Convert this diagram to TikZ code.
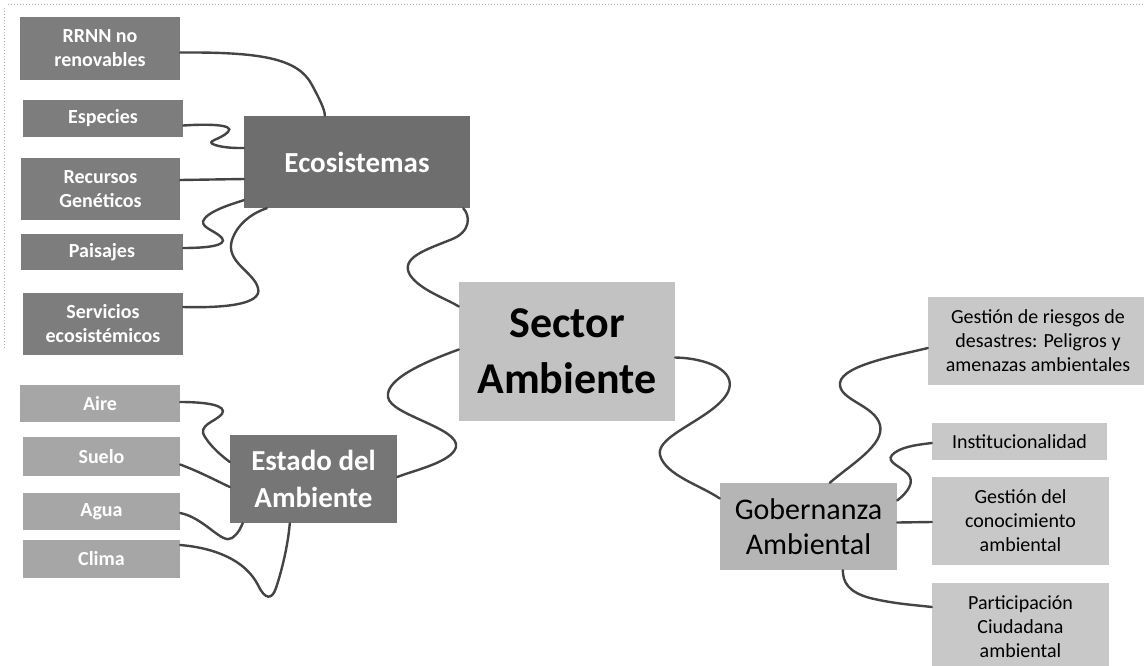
\documentclass[tikz,border=0pt]{standalone}
\usepackage{fontspec}
\setmainfont{Carlito}
\usetikzlibrary{calc}
\definecolor{ecofill}{HTML}{6E6E6E}
\definecolor{ecochildfill}{HTML}{7D7D7D}
\definecolor{estfill}{HTML}{767676}
\definecolor{estchildfill}{HTML}{A6A6A6}
\definecolor{secfill}{HTML}{C2C2C2}
\definecolor{gobfill}{HTML}{B5B5B5}
\definecolor{gobchildfill}{HTML}{C8C8C8}
\definecolor{connline}{HTML}{444444}
\definecolor{framedot}{HTML}{B0B0B0}
\tikzset{
  boxbase/.style={rectangle, inner sep=0pt, align=center},
  ecochild/.style={boxbase, fill=ecochildfill, text=white, font=\fontsize{20}{24}\selectfont\bfseries},
  estchild/.style={boxbase, fill=estchildfill, text=white, font=\fontsize{20}{24}\selectfont\bfseries},
  gobchild/.style={boxbase, fill=gobchildfill, text=black, font=\fontsize{20}{24}\selectfont},
  topicdark/.style={boxbase, fill=#1, text=white, font=\fontsize{29}{37}\selectfont\bfseries},
  gobbox/.style={boxbase, fill=gobfill, text=black, font=\fontsize{30}{35}\selectfont},
  secbox/.style={boxbase, fill=secfill, text=black, font=\fontsize{44}{56}\selectfont\bfseries},
  conn/.style={draw=connline, line width=2.4pt, line cap=round},
  sz/.style 2 args={minimum width=#1, minimum height=#2},
}
\begin{document}
\begin{tikzpicture}[x=1pt,y=-1pt]
\useasboundingbox (0,0) rectangle (1144,665);
\fill[white] (0,0) rectangle (1144,665);
\draw[framedot, dotted, line width=1pt] (8,4) -- (1144,4);
\draw[framedot, dotted, line width=1pt] (4,8) -- (4,350);

% central
\node[secbox, sz={216}{139}] (sec) at (567,351.5) {Sector\\Ambiente};

% Ecosistemas branch
\node[topicdark=ecofill, sz={226}{92}] (eco) at (357,162) {Ecosistemas};
\node[ecochild, sz={160}{63}] (rrnn) at (100,48.5) {RRNN no\\renovables};
\node[ecochild, sz={160}{37}] (esp) at (103,118.5) {Especies};
\node[ecochild, sz={159}{62}] (rec) at (100.5,189) {Recursos\\Genéticos};
\node[ecochild, sz={162}{36}] (pai) at (102,252) {Paisajes};
\node[ecochild, sz={160}{62}] (ser) at (103,324) {Servicios\\ecosistémicos};

% Estado branch
\node[topicdark=estfill, sz={167}{88}] (est) at (313.5,479) {Estado del\\Ambiente};
\node[estchild, sz={160}{37}] (aire) at (100,403.5) {Aire};
\node[estchild, sz={157}{39}] (suelo) at (101.5,456.5) {Suelo};
\node[estchild, sz={157}{37}] (agua) at (101.5,511.5) {Agua};
\node[estchild, sz={157}{38}] (clima) at (101.5,559) {Clima};

% Gobernanza branch
\node[gobbox, sz={177}{87}] (gob) at (808.5,526.5) {Gobernanza\\Ambiental};
\node[gobchild, sz={220}{88}] (rie) at (1038,341) {Gestión de riesgos de\\desastres: Peligros y\\amenazas ambientales};
\node[gobchild, sz={175}{37}] (inst) at (1019.5,441.5) {Institucionalidad};
\node[gobchild, sz={177}{88}] (con) at (1020.5,521) {Gestión del\\conocimiento\\ambiental};
\node[gobchild, sz={177}{88}] (par) at (1020.5,627) {Participación\\Ciudadana\\ambiental};

% connectors: Ecosistemas
\draw[conn] ($(rrnn.east)+(0,4)$) .. controls (260,52) and (298,58) .. (312,85)
  .. controls (320,100) and (325,110) .. ($(eco.north west)+(81,0)$);
\draw[conn] ($(esp.east)+(0,7)$) .. controls (205,124) and (236,124) .. (228,132)
  .. controls (220,140) and (204,141) .. (215,145)
  .. controls (225,148) and (235,148) .. ($(eco.west)+(0,-14)$);
\draw[conn] ($(rec.east)+(0,-9)$) -- ($(eco.west)+(0,17)$);
\draw[conn] ($(pai.east)+(0,-4)$) .. controls (205,248) and (228,246) .. (222,238)
  .. controls (215,230) and (197,227) .. (205,218)
  .. controls (212,210) and (232,204) .. ($(eco.south west)+(0,-8)$);
\draw[conn] ($(ser.east)+(0,-17)$) .. controls (222,308) and (263,305) .. (258,288)
  .. controls (254,272) and (225,262) .. (232,240)
  .. controls (238,222) and (255,212) .. ($(eco.south west)+(23,0)$);
\draw[conn] ($(eco.south east)+(-7,0)$) .. controls (470,215) and (472,232) .. (450,240)
  .. controls (425,250) and (400,258) .. (410,275)
  .. controls (420,290) and (445,298) .. ($(sec.west)+(0,-45)$);

% connectors: Estado
\draw[conn] ($(sec.west)+(0,-2)$) .. controls (430,360) and (385,378) .. (388,397)
  .. controls (390,415) and (460,428) .. (456,447)
  .. controls (452,462) and (415,470) .. ($(est.east)+(0,-2)$);
\draw[conn] ($(aire.east)+(0,-1.5)$) .. controls (205,402) and (228,405) .. (222,414)
  .. controls (215,422) and (197,425) .. (205,437)
  .. controls (212,448) and (222,456) .. ($(est.west)+(0,-17)$);
\draw[conn] ($(suelo.east)+(0,8)$) .. controls (200,472) and (215,480) .. ($(est.west)+(0,8)$);
\draw[conn] ($(agua.east)+(0,1.5)$) .. controls (205,518) and (222,545) .. (232,538)
  .. controls (240,532) and (240,528) .. ($(est.south west)+(13,0)$);
\draw[conn] ($(clima.east)+(0,-14)$) .. controls (215,548) and (245,560) .. (258,585)
  .. controls (265,600) and (272,600) .. (276,588)
  .. controls (282,570) and (288,545) .. ($(est.south west)+(60,0)$);

% connectors: Gobernanza
\draw[conn] ($(sec.east)+(0,6)$) .. controls (705,358) and (738,370) .. (728,392)
  .. controls (715,418) and (655,435) .. (660,455)
  .. controls (665,475) and (700,485) .. ($(gob.west)+(0,-28)$);
\draw[conn] ($(gob.north west)+(110,0)$) .. controls (850,465) and (885,445) .. (880,425)
  .. controls (875,405) and (838,400) .. (840,383)
  .. controls (842,365) and (900,355) .. ($(rie.west)+(0,7)$);
\draw[conn] ($(gob.east)+(0,-26)$) .. controls (908,492) and (915,482) .. (908,474)
  .. controls (900,466) and (886,462) .. (892,455)
  .. controls (900,447) and (915,445) .. ($(inst.west)+(0,1.5)$);
\draw[conn] ($(gob.east)+(0,-4)$) -- ($(con.west)+(0,1)$);
\draw[conn] ($(gob.south west)+(123,0)$) .. controls (843,582) and (848,592) .. (870,598)
  .. controls (895,604) and (915,605) .. ($(par.west)+(0,-20)$);
\end{tikzpicture}
\end{document}
